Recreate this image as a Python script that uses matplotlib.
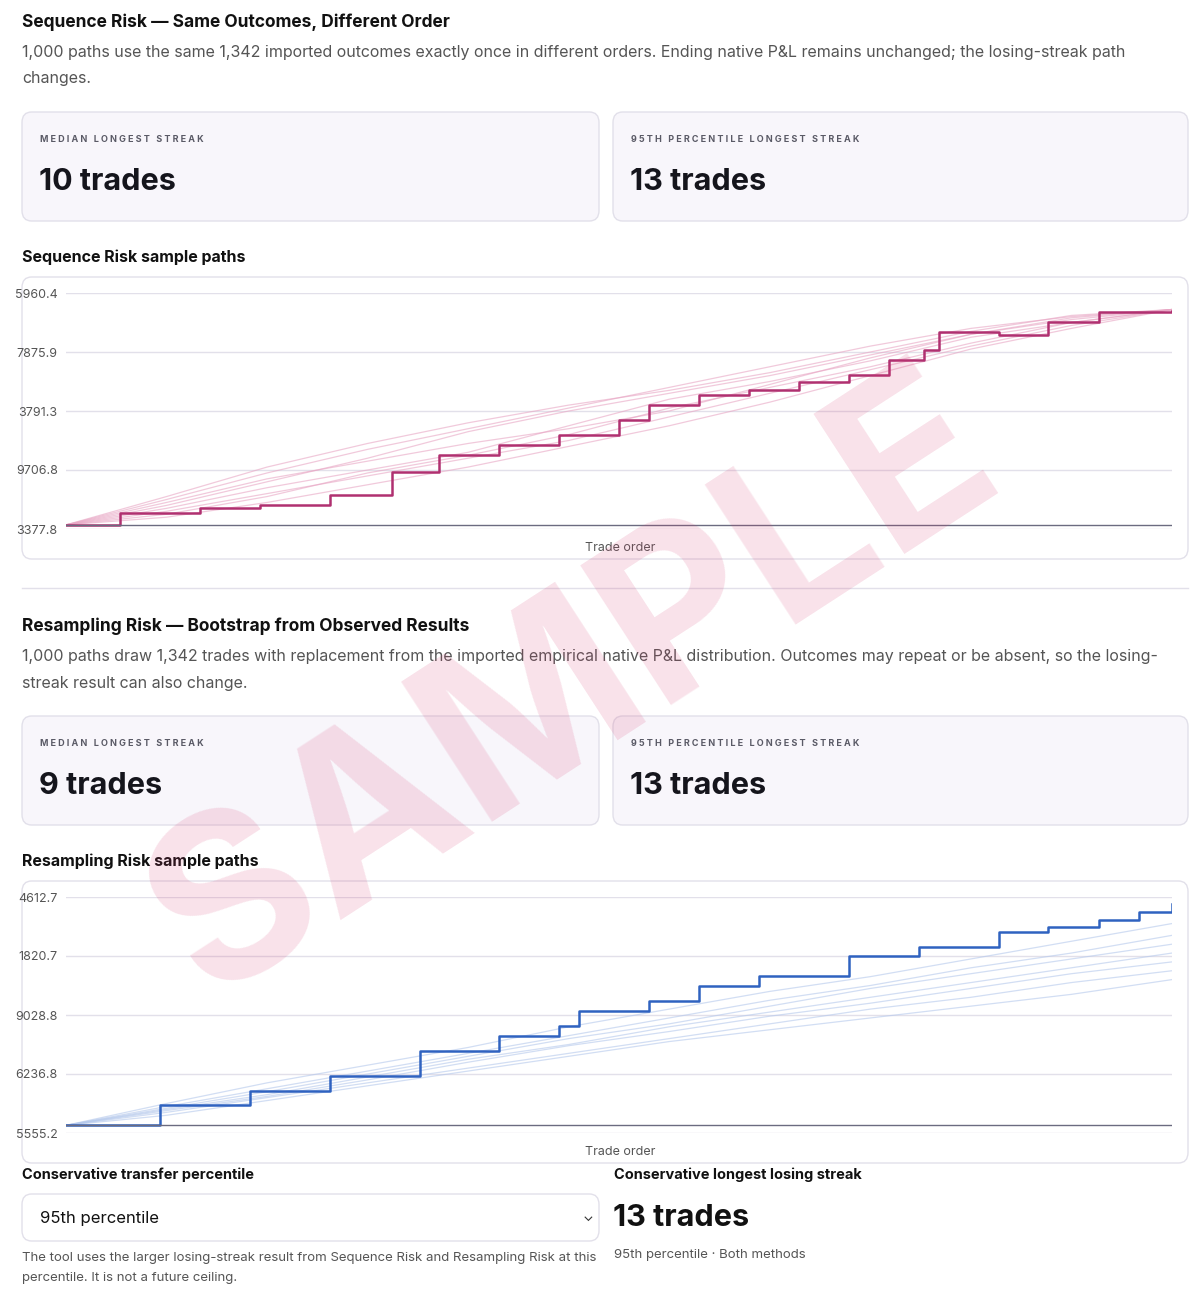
import numpy as np
import matplotlib.pyplot as plt
from matplotlib.patches import FancyBboxPatch

plt.rcParams['font.family'] = ['Inter', 'DejaVu Sans']

W = 1199
H = 1312

# sequence risk paths (trade index, equity in grid units)
seq_main_x = [0, 66, 163, 235, 320, 395, 436, 452, 525, 598, 671, 707, 768, 829, 889, 950, 999, 1041, 1059, 1132, 1192, 1253, 1342]
seq_main_y = [0.07, 0.27, 0.36, 0.41, 0.58, 0.97, 0.97, 1.25, 1.42, 1.59, 1.85, 2.10, 2.27, 2.36, 2.49, 2.61, 2.86, 3.03, 3.34, 3.29, 3.51, 3.68, 3.70]
seq_faint = [
    [0.07, 0.50, 0.95, 1.35, 1.70, 2.05, 2.40, 2.75, 3.10, 3.40, 3.60, 3.72],
    [0.07, 0.30, 0.60, 0.90, 1.20, 1.50, 1.90, 2.30, 2.70, 3.10, 3.45, 3.72],
    [0.07, 0.40, 0.80, 1.20, 1.65, 2.00, 2.30, 2.60, 2.95, 3.30, 3.55, 3.72],
    [0.07, 0.20, 0.45, 0.75, 1.05, 1.40, 1.75, 2.15, 2.60, 3.05, 3.40, 3.72],
    [0.07, 0.35, 0.70, 1.00, 1.30, 1.75, 2.20, 2.50, 2.85, 3.25, 3.50, 3.72],
    [0.07, 0.45, 0.85, 1.15, 1.45, 1.70, 2.00, 2.45, 2.90, 3.30, 3.58, 3.72],
    [0.07, 0.55, 1.05, 1.45, 1.80, 2.10, 2.35, 2.65, 3.00, 3.35, 3.62, 3.72],
    [0.07, 0.25, 0.55, 0.95, 1.25, 1.60, 2.05, 2.40, 2.75, 3.15, 3.50, 3.72],
]
seq_labels = ['3377.8', '9706.8', '3791.3', '7875.9', '5960.4']

# resampling risk paths
res_main_x = [0, 41, 114, 223, 320, 429, 526, 598, 623, 708, 768, 841, 950, 1035, 1132, 1192, 1253, 1302, 1342]
res_main_y = [0.13, 0.13, 0.47, 0.72, 0.97, 1.39, 1.65, 1.82, 2.07, 2.24, 2.49, 2.66, 3.00, 3.16, 3.41, 3.49, 3.61, 3.75, 3.88]
res_faint = [
    [0.13, 0.45, 0.75, 1.05, 1.35, 1.65, 1.95, 2.25, 2.50, 2.80, 3.05, 3.35],
    [0.13, 0.40, 0.65, 0.95, 1.25, 1.50, 1.80, 2.05, 2.30, 2.55, 2.80, 3.05],
    [0.13, 0.35, 0.60, 0.85, 1.10, 1.35, 1.60, 1.85, 2.10, 2.30, 2.55, 2.75],
    [0.13, 0.50, 0.85, 1.15, 1.45, 1.80, 2.10, 2.40, 2.65, 2.95, 3.25, 3.55],
    [0.13, 0.30, 0.55, 0.80, 1.05, 1.30, 1.55, 1.75, 1.95, 2.15, 2.35, 2.60],
    [0.13, 0.42, 0.70, 1.00, 1.30, 1.60, 1.85, 2.15, 2.45, 2.70, 2.95, 3.20],
    [0.13, 0.38, 0.62, 0.90, 1.20, 1.48, 1.72, 1.98, 2.20, 2.45, 2.70, 2.90],
]
res_labels = ['5555.2', '6236.8', '9028.8', '1820.7', '4612.7']

fig = plt.figure(figsize=(W / 100, H / 100), dpi=100)
fig.patch.set_facecolor('white')


def fx(x):
    return x / W


def fy(y):
    return 1 - y / H


def card(x0, y0, x1, y1, face='#f8f6fb'):
    fig.patches.append(FancyBboxPatch((fx(x0), fy(y1)), fx(x1 - x0), (y1 - y0) / H,
                                      boxstyle='round,pad=0,rounding_size=0.008',
                                      transform=fig.transFigure, facecolor=face,
                                      edgecolor='#e2e0ea', linewidth=1, zorder=0))


def section(y, title, desc1, desc2, med, p95):
    fig.text(fx(22), fy(y), title, fontsize=12.5, fontweight='bold', color='#111', va='center')
    fig.text(fx(22), fy(y + 31), desc1, fontsize=11.5, color='#555', va='center')
    fig.text(fx(22), fy(y + 57), desc2, fontsize=11.5, color='#555', va='center')
    for x0, x1, lab, val in [(22, 599, 'M E D I A N   L O N G E S T   S T R E A K', med),
                             (613, 1188, '9 5 T H   P E R C E N T I L E   L O N G E S T   S T R E A K', p95)]:
        card(x0, y + 90, x1, y + 199)
        fig.text(fx(x0 + 18), fy(y + 117), lab, fontsize=6.5, fontweight='bold', color='#5a5a66', va='center')
        fig.text(fx(x0 + 17), fy(y + 160), val, fontsize=22, fontweight='bold', color='#15151c', va='center')


def chart(ytop, title, main_x, main_y, faint, color, light, labels, base):
    fig.text(fx(22), fy(ytop - 20), title, fontsize=11.5, fontweight='bold', color='#111', va='center')
    card(22, ytop, 1188, ytop + 282, face='white')
    ax = fig.add_axes([fx(66), fy(ytop + 252), fx(1106), 236 / H])
    ax.set_zorder(5)
    grid = np.linspace(0, 1342, 12)
    for p in faint:
        ax.plot(grid, p, color=light, lw=0.9, alpha=0.6)
    ax.plot(main_x, main_y, color=color, lw=1.8, drawstyle='steps-post')
    ax.axhline(base, color='#6b6b80', lw=1)
    ax.set_xlim(0, 1342)
    ax.set_ylim(0, 4)
    ax.set_yticks(range(5))
    ax.set_yticklabels(labels)
    ax.set_xticks([])
    ax.tick_params(axis='y', length=0, labelsize=9, labelcolor='#555', pad=6)
    ax.grid(axis='y', color='#e2e0ea', lw=1)
    for s in ax.spines.values():
        s.set_visible(False)
    ax.set_facecolor('none')
    fig.text(fx(620), fy(ytop + 271), 'Trade order', fontsize=9, color='#555', ha='center', va='center')
    return ax


section(22, 'Sequence Risk — Same Outcomes, Different Order',
        '1,000 paths use the same 1,342 imported outcomes exactly once in different orders. Ending native P&L remains unchanged; the losing-streak path',
        'changes.', '10 trades', '13 trades')
chart(277, 'Sequence Risk sample paths', seq_main_x, seq_main_y, seq_faint, '#b03070', '#e8a6c4', seq_labels, 0.07)

fig.lines.append(plt.Line2D([fx(22), fx(1188)], [fy(588), fy(588)], transform=fig.transFigure, color='#e2e0ea', lw=1))

section(626, 'Resampling Risk — Bootstrap from Observed Results',
        '1,000 paths draw 1,342 trades with replacement from the imported empirical native P&L distribution. Outcomes may repeat or be absent, so the losing-',
        'streak result can also change.', '9 trades', '13 trades')
chart(881, 'Resampling Risk sample paths', res_main_x, res_main_y, res_faint, '#2f62c0', '#b4c8ec', res_labels, 0.13)

# bottom controls
fig.text(fx(22), fy(1175), 'Conservative transfer percentile', fontsize=10.5, fontweight='bold', color='#111', va='center')
card(22, 1194, 599, 1241, face='white')
fig.text(fx(40), fy(1218), '95th percentile', fontsize=12, color='#111', va='center')
fig.text(fx(588), fy(1217), '⌄', fontsize=10, color='#333', va='center', ha='center')
fig.text(fx(22), fy(1258), 'The tool uses the larger losing-streak result from Sequence Risk and Resampling Risk at this',
         fontsize=9.5, color='#555', va='center')
fig.text(fx(22), fy(1278), 'percentile. It is not a future ceiling.', fontsize=9.5, color='#555', va='center')
fig.text(fx(614), fy(1175), 'Conservative longest losing streak', fontsize=10.5, fontweight='bold', color='#111', va='center')
fig.text(fx(613), fy(1218), '13 trades', fontsize=22, fontweight='bold', color='#111', va='center')
fig.text(fx(614), fy(1255), '95th percentile · Both methods', fontsize=9.5, color='#555', va='center')

# watermark
fig.text(fx(575), fy(690), 'SAMPLE', fontsize=165, fontweight='bold', color='#d63a70', alpha=0.15,
         rotation=33, ha='center', va='center', zorder=10)

plt.savefig('out.png', dpi=100)
